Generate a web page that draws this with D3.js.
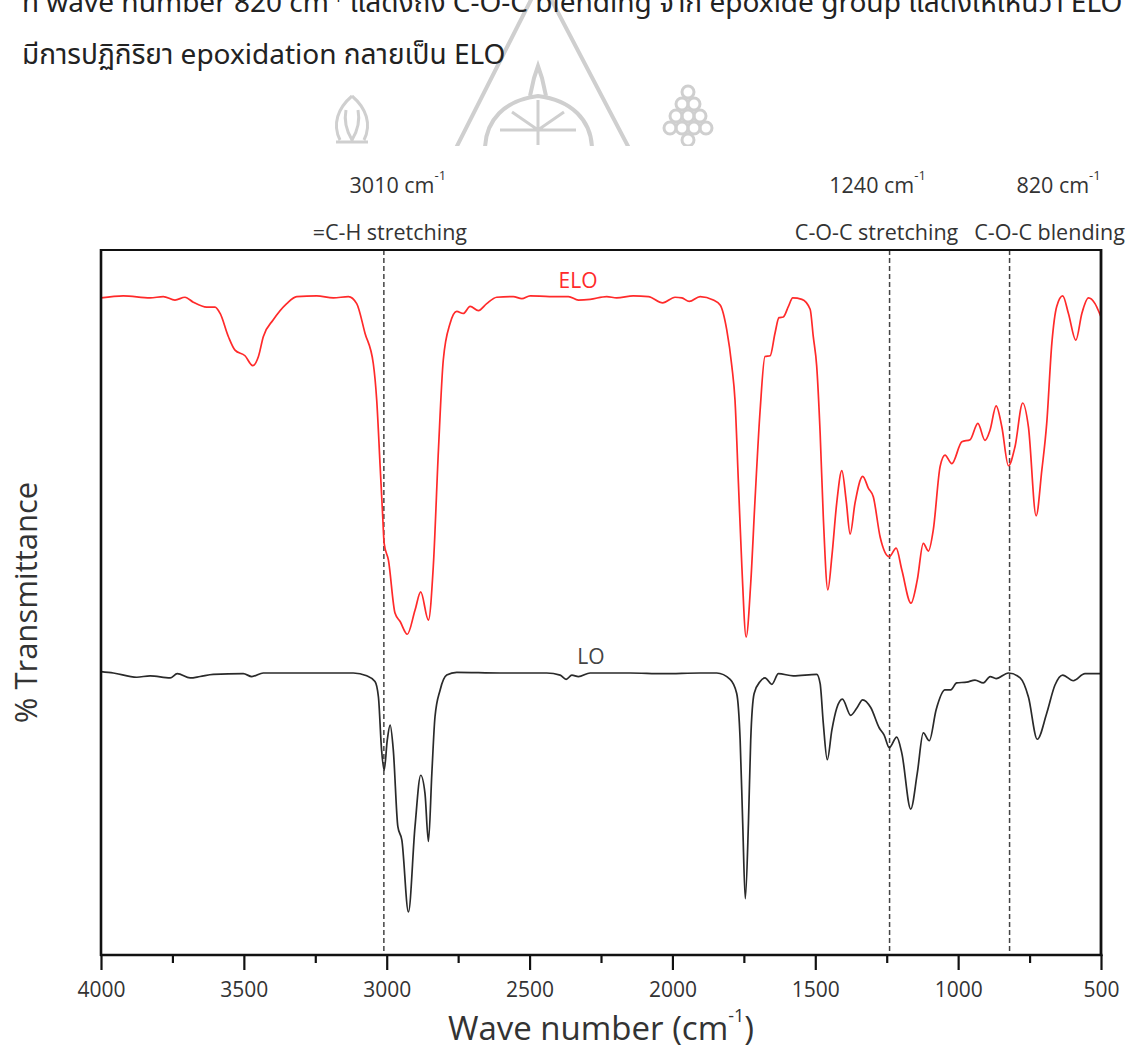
<!DOCTYPE html>
<html>
<head>
<meta charset="utf-8">
<script src="https://cdn.jsdelivr.net/npm/d3@7"></script>
<style>
  html, body { margin: 0; padding: 0; background: #ffffff; }
  svg { display: block; }
  text { font-family: "Open Sans", "Noto Sans", sans-serif; }
</style>
</head>
<body>
<svg id="chart" width="1144" height="1048"></svg>
<script>
// ---------------- DATA ----------------
// [wave number (cm-1), % transmittance (stacked, arbitrary offset)]
const eloSpectrum = [
  [4000,93.2],[3922,93.5],[3828,93.2],[3782,93.4],[3741,92.9],[3706,93.3],[3677,92.6],[3630,91.9],
  [3601,91.9],[3583,91.0],[3554,87.7],[3531,85.8],[3496,85.0],[3469,83.6],[3449,84.9],[3432,87.7],
  [3397,90.1],[3350,92.4],[3315,93.4],[3245,93.5],[3187,93.2],[3134,93.4],[3105,92.4],[3076,88.2],
  [3047,83.9],[3035,78.7],[3023,69.3],[3014,62.2],[3009,58.4],[2994,56.0],[2971,48.5],[2953,47.3],
  [2928,45.5],[2901,48.9],[2881,51.5],[2854,47.5],[2837,55.1],[2819,71.6],[2802,84.4],[2778,89.6],
  [2755,91.3],[2732,91.0],[2708,92.0],[2679,91.4],[2650,92.4],[2615,93.3],[2557,93.4],[2527,93.1],
  [2498,93.5],[2430,93.4],[2364,93.4],[2329,92.9],[2288,93.0],[2230,93.4],[2195,93.2],[2137,93.5],
  [2084,93.4],[2034,92.5],[1991,93.3],[1967,93.2],[1941,92.7],[1903,93.4],[1857,92.9],[1833,92.2],
  [1810,88.7],[1792,83.5],[1781,78.7],[1769,66.9],[1757,55.1],[1742,45.1],[1726,52.7],[1711,64.5],
  [1693,77.3],[1676,84.9],[1658,85.0],[1641,88.2],[1627,90.4],[1612,90.5],[1594,92.0],[1579,93.2],
  [1547,93.0],[1518,91.6],[1507,87.7],[1495,83.5],[1483,74.0],[1472,62.2],[1456,51.8],[1442,56.5],
  [1425,64.1],[1407,68.7],[1392,64.5],[1378,59.7],[1361,64.1],[1334,67.9],[1314,66.2],[1297,65.0],
  [1273,59.3],[1241,56.5],[1217,57.7],[1197,54.6],[1165,49.9],[1143,53.2],[1122,58.4],[1104,57.3],
  [1087,60.3],[1063,69.3],[1046,70.9],[1022,69.7],[987,72.8],[958,73.1],[931,75.4],[906,73.0],
  [888,74.5],[867,77.9],[847,74.9],[824,69.4],[801,72.1],[774,78.3],[754,74.9],[727,62.3],
  [707,68.8],[690,75.4],[672,86.8],[655,92.0],[634,93.5],[614,91.0],[588,87.2],[567,91.0],
  [544,93.2],[521,92.4],[506,91.1],[500,90.5]
];
const loSpectrum = [
  [4000,40.2],[3957,40.0],[3875,39.4],[3828,39.6],[3758,39.3],[3733,39.9],[3688,39.3],[3653,39.5],
  [3607,39.8],[3502,39.9],[3472,39.5],[3432,40.0],[3303,40.0],[3117,40.0],[3070,39.6],[3041,38.8],
  [3029,36.6],[3018,29.1],[3009,26.2],[2998,30.5],[2988,32.6],[2977,29.1],[2961,18.2],[2947,16.3],
  [2924,6.1],[2901,18.2],[2881,25.5],[2866,22.9],[2854,16.1],[2842,25.8],[2831,33.8],[2813,37.6],
  [2790,39.7],[2755,40.1],[2603,40.0],[2557,40.0],[2440,40.0],[2393,39.7],[2372,39.1],[2352,39.7],
  [2329,39.5],[2288,40.0],[2148,40.0],[2032,39.9],[1903,40.0],[1845,40.0],[1798,39.1],[1775,37.1],
  [1763,30.5],[1754,18.7],[1745,8.0],[1734,18.7],[1726,30.5],[1714,37.1],[1693,38.8],[1676,39.3],
  [1652,38.4],[1629,39.9],[1577,39.6],[1495,39.8],[1483,38.5],[1472,32.9],[1458,27.7],[1442,31.9],
  [1425,35.0],[1405,36.3],[1376,34.0],[1355,35.0],[1334,36.2],[1306,35.1],[1276,32.2],[1259,31.2],
  [1241,29.4],[1215,30.9],[1197,28.6],[1166,20.7],[1143,25.8],[1122,31.5],[1101,30.4],[1077,34.8],
  [1046,37.6],[1026,37.6],[1005,38.6],[970,38.7],[941,39.0],[912,38.6],[888,39.5],[867,39.2],
  [824,40.0],[783,39.3],[754,36.6],[723,30.6],[690,34.3],[661,38.3],[634,39.7],[597,38.9],
  [556,39.9],[510,39.9],[500,39.9]
];
const seriesNames = ["ELO", "LO"];
const majorTicks = [4000, 3500, 3000, 2500, 2000, 1500, 1000, 500];
const minorTicks = [3750, 3250, 2750, 2250, 1750, 1250, 750];
const markerWaves = [3010, 1240, 820];
const markerGroups = ["=C-H stretching", "C-O-C stretching", "C-O-C blending"];
const xTitle = "Wave number (cm";
const yTitle = "% Transmittance";
const docLine1 = "ที่ wave number 820 cm";
const docLine1b = " แสดงถึง C-O-C blending จาก epoxide group แสดงให้เห็นว่า ELO";
const docLine2 = "มีการปฏิกิริยา epoxidation กลายเป็น ELO";

// ---------------- LAYOUT ----------------
const L = 101, R = 1101, T = 250, B = 955;
const svg = d3.select("#chart");
const x = d3.scaleLinear().domain([4000, 500]).range([L, R]);
const y = d3.scaleLinear().domain([0, 100]).range([B, T]);

// ---------- watermark (decorative, light) ----------
svg.append("clipPath").attr("id", "wmclip").append("rect").attr("x", 0).attr("y", 0).attr("width", 1144).attr("height", 146);
const wm = svg.append("g").attr("fill", "none").attr("stroke", "#cfcfcf").attr("stroke-width", 4)
  .attr("clip-path", "url(#wmclip)");
wm.append("path").attr("d", "M455,150 L541,-20 L630,150");
wm.append("path").attr("d", "M485,150 C485,120 505,100 538,96 C571,100 592,120 592,150");
wm.append("path").attr("d", "M530,96 L534,78 L538,66 L542,78 L546,96");
wm.append("path").attr("stroke-width", 3).attr("d", "M500,130 L576,130 M538,100 L538,145 M512,112 L538,130 L564,112");
wm.append("path").attr("stroke-width", 3).attr("d", "M352,96 C338,108 332,124 340,140 M352,96 C366,108 372,124 364,140 M346,110 C344,120 346,130 352,140 C358,130 360,120 358,110 M336,142 L368,142");
wm.append("g").attr("stroke-width", 3).selectAll("circle")
  .data([[688,92],[682,104],[694,104],[676,116],[688,116],[700,116],[670,128],[682,128],[694,128],[706,128],[688,140]])
  .join("circle").attr("cx", d => d[0]).attr("cy", d => d[1]).attr("r", 6);

// ---------- document text above the chart ----------
const thaiFont = "'Noto Sans Thai','Leelawadee UI','Tahoma','Loma','Garuda','Noto Sans',sans-serif";
const t1 = svg.append("text").attr("x", 22).attr("y", 12).attr("font-size", 28).attr("fill", "#222").style("font-family", thaiFont);
t1.append("tspan").text(docLine1);
t1.append("tspan").attr("dy", -10).attr("font-size", 15).text("-1");
t1.append("tspan").attr("dy", 10).text(docLine1b);
svg.append("text").attr("x", 22).attr("y", 64).attr("font-size", 28).attr("fill", "#222")
  .style("font-family", thaiFont).text(docLine2);

// ---------- marker dashed lines ----------
svg.append("g").selectAll("line").data(markerWaves).join("line")
  .attr("x1", d => x(d)).attr("x2", d => x(d)).attr("y1", T).attr("y2", B)
  .attr("stroke", "#444").attr("stroke-width", 1.5).attr("stroke-dasharray", "5,3");

// ---------- spectra ----------
const line = d3.line().x(d => x(d[0])).y(d => y(d[1])).curve(d3.curveMonotoneX);
svg.append("path").datum(eloSpectrum).attr("d", line)
  .attr("fill", "none").attr("stroke", "#ff2a2a").attr("stroke-width", 1.7);
svg.append("path").datum(loSpectrum).attr("d", line)
  .attr("fill", "none").attr("stroke", "#2a2a2a").attr("stroke-width", 1.7);

// series labels
svg.append("text").attr("x", 578).attr("y", 288).attr("text-anchor", "middle")
  .attr("font-size", 21).attr("fill", "#ff2a2a").text(seriesNames[0]);
svg.append("text").attr("x", 591).attr("y", 664).attr("text-anchor", "middle")
  .attr("font-size", 21).attr("fill", "#444").text(seriesNames[1]);

// ---------- frame ----------
const frame = svg.append("g").attr("stroke", "#111");
frame.append("line").attr("x1", L).attr("x2", R).attr("y1", T).attr("y2", T).attr("stroke-width", 1.8);
frame.append("line").attr("x1", L).attr("x2", L).attr("y1", T - 1).attr("y2", B + 1).attr("stroke-width", 2.6);
frame.append("line").attr("x1", R).attr("x2", R).attr("y1", T - 1).attr("y2", B + 1).attr("stroke-width", 2.8);

// ---------- x axis ----------
const axMinor = svg.append("g").attr("transform", `translate(0,${B})`)
  .call(d3.axisBottom(x).tickValues(minorTicks).tickSize(8).tickFormat(""));
const axMajor = svg.append("g").attr("transform", `translate(0,${B})`)
  .call(d3.axisBottom(x).tickValues(majorTicks).tickSize(15).tickPadding(12).tickFormat(d3.format("d")));
[axMinor, axMajor].forEach(g => {
  g.select(".domain").remove();
  g.selectAll(".tick line").attr("stroke", "#111").attr("stroke-width", 2.2);
});
axMajor.selectAll(".tick text").attr("font-size", 21).attr("fill", "#333")
  .style("font-family", "'Open Sans', sans-serif");
svg.append("line").attr("x1", L - 1).attr("x2", R + 1.5).attr("y1", B).attr("y2", B)
  .attr("stroke", "#111").attr("stroke-width", 2.6);

// axis titles
const xt = svg.append("text").attr("x", (L + R) / 2).attr("y", 1040).attr("text-anchor", "middle")
  .attr("font-size", 33).attr("fill", "#333");
xt.append("tspan").text(xTitle);
xt.append("tspan").attr("dy", -18).attr("font-size", 18).text("-1");
xt.append("tspan").attr("dy", 18).text(")");

svg.append("text").attr("transform", `translate(37,${(T + B) / 2}) rotate(-90)`)
  .attr("text-anchor", "middle").attr("font-size", 31).attr("fill", "#333").text(yTitle);

// ---------- marker annotations ----------
const numOffset = [14, -12, 49];
const grpOffset = [6, -13, 40];
markerWaves.forEach((w, i) => {
  const tn = svg.append("text").attr("x", x(w) + numOffset[i]).attr("y", 193)
    .attr("text-anchor", "middle").attr("font-size", 21.5).attr("fill", "#333");
  tn.append("tspan").text(w + " cm");
  tn.append("tspan").attr("dy", -13).attr("font-size", 13).text("-1");
  svg.append("text").attr("x", x(w) + grpOffset[i]).attr("y", 240)
    .attr("text-anchor", "middle").attr("font-size", 21.5).attr("fill", "#333").text(markerGroups[i]);
});
</script>
</body>
</html>
